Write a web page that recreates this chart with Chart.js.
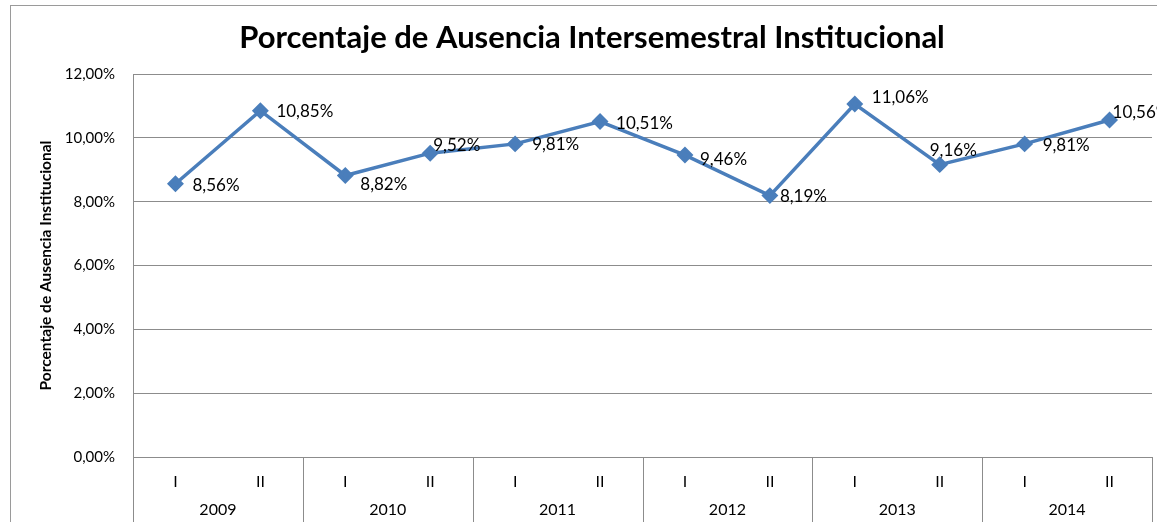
<!DOCTYPE html>
<html>
<head>
<meta charset="utf-8">
<script src="https://cdn.jsdelivr.net/npm/chart.js@4.4.1/dist/chart.umd.min.js"></script>
<style>
  html, body { margin: 0; padding: 0; background: #fff; }
  #wrap { width: 1157px; height: 522px; position: relative; }
</style>
</head>
<body>
<div id="wrap"><canvas id="chart" width="1157" height="522"></canvas></div>
<script>
// chart data
const years = ['2009', '2010', '2011', '2012', '2013', '2014'];
const semesters = ['I', 'II', 'I', 'II', 'I', 'II', 'I', 'II', 'I', 'II', 'I', 'II'];
const ausencia = [8.56, 10.85, 8.82, 9.52, 9.81, 10.51, 9.46, 8.19, 11.06, 9.16, 9.81, 10.56];
const yTicks = [0, 2, 4, 6, 8, 10, 12];

// where each value label sits relative to its point (px)
const labelShift = [[17, 2], [16, 1], [15, 9], [3, -8], [17, 1], [16, 2], [15, 4], [10, 1], [17, -6], [-10, -14], [18, 2], [3, -7]];

const fmt = v => v.toFixed(2).replace('.', ',') + '%';
const BLUE = '#4a7ebb';
const GRID = '#8c8c8c';
const FONT = 'Lato, "Open Sans", sans-serif';

const frame = {
    id: 'frame',
    beforeDraw(chart) {
        const ctx = chart.ctx;
        ctx.save();
        ctx.fillStyle = '#fff';
        ctx.fillRect(0, 0, chart.width, chart.height);
        ctx.strokeStyle = '#9a9a9a';
        ctx.lineWidth = 1;
        ctx.strokeRect(10.5, 5.5, chart.width + 20, chart.height + 20);
        // title
        ctx.fillStyle = '#000';
        ctx.font = 'bold 31px ' + FONT;
        ctx.textAlign = 'center';
        ctx.textBaseline = 'middle';
        ctx.fillText('Porcentaje de Ausencia Intersemestral Institucional', 592, 38);
        ctx.restore();
    },
    afterDraw(chart) {
        const ctx = chart.ctx;
        const area = chart.chartArea;
        const x = chart.scales.x;
        ctx.save();
        ctx.strokeStyle = GRID;
        ctx.lineWidth = 1;
        // group separators under the category axis
        for (let g = 0; g <= years.length; g++) {
            const i = g * 2;
            let px;
            if (i === 0) px = area.left;
            else if (i >= semesters.length) px = area.right;
            else px = (x.getPixelForValue(i - 1) + x.getPixelForValue(i)) / 2;
            px = Math.round(px) + 0.5;
            ctx.beginPath();
            ctx.moveTo(px, g === 0 ? area.top : area.bottom);
            ctx.lineTo(px, chart.height);
            ctx.stroke();
        }
        // year labels
        ctx.fillStyle = '#000';
        ctx.font = '16px ' + FONT;
        ctx.textAlign = 'center';
        ctx.textBaseline = 'middle';
        years.forEach((yr, g) => {
            const cx = (x.getPixelForValue(g * 2) + x.getPixelForValue(g * 2 + 1)) / 2;
            ctx.fillText(yr, cx, 510);
        });
        // value labels
        const meta = chart.getDatasetMeta(0);
        ctx.font = '17px ' + FONT;
        ctx.textAlign = 'left';
        meta.data.forEach((pt, i) => {
            const s = labelShift[i];
            ctx.fillText(fmt(ausencia[i]), pt.x + s[0], pt.y + s[1]);
        });
        ctx.restore();
    }
};

new Chart(document.getElementById('chart'), {
    type: 'line',
    data: {
        labels: semesters,
        datasets: [{
            data: ausencia,
            borderColor: BLUE,
            backgroundColor: BLUE,
            borderWidth: 3.5,
            pointStyle: 'rectRot',
            pointRadius: 6,
            pointHoverRadius: 6,
            tension: 0
        }]
    },
    options: {
        responsive: false,
        animation: false,
        layout: { autoPadding: false, padding: { top: 74, right: 5, left: 0, bottom: 0 } },
        plugins: {
            legend: { display: false },
            tooltip: { enabled: false }
        },
        scales: {
            x: {
                offset: true,
                grid: { display: false, drawTicks: false },
                border: { color: GRID, width: 1 },
                ticks: { color: '#000', font: { family: FONT, size: 16 }, padding: 15, maxRotation: 0, autoSkip: false },
                afterFit(scale) {
                    scale.height = 65;
                    scale.paddingLeft = 0;
                    scale.paddingRight = 0;
                }
            },
            y: {
                min: 0,
                max: 12,
                afterBuildTicks(scale) { scale.ticks = yTicks.map(v => ({ value: v })); },
                grid: { color: GRID, drawTicks: false },
                border: { color: GRID, width: 1 },
                ticks: { color: '#000', font: { family: FONT, size: 15 }, padding: 18, callback: v => fmt(v) },
                title: {
                    display: true,
                    text: 'Porcentaje de Ausencia Institucional',
                    color: '#000',
                    font: { family: FONT, size: 15.5, weight: 'bold' },
                    padding: { top: 37, bottom: 0 }
                },
                afterFit(scale) { scale.width = 133; }
            }
        }
    },
    plugins: [frame]
});
</script>
</body>
</html>
